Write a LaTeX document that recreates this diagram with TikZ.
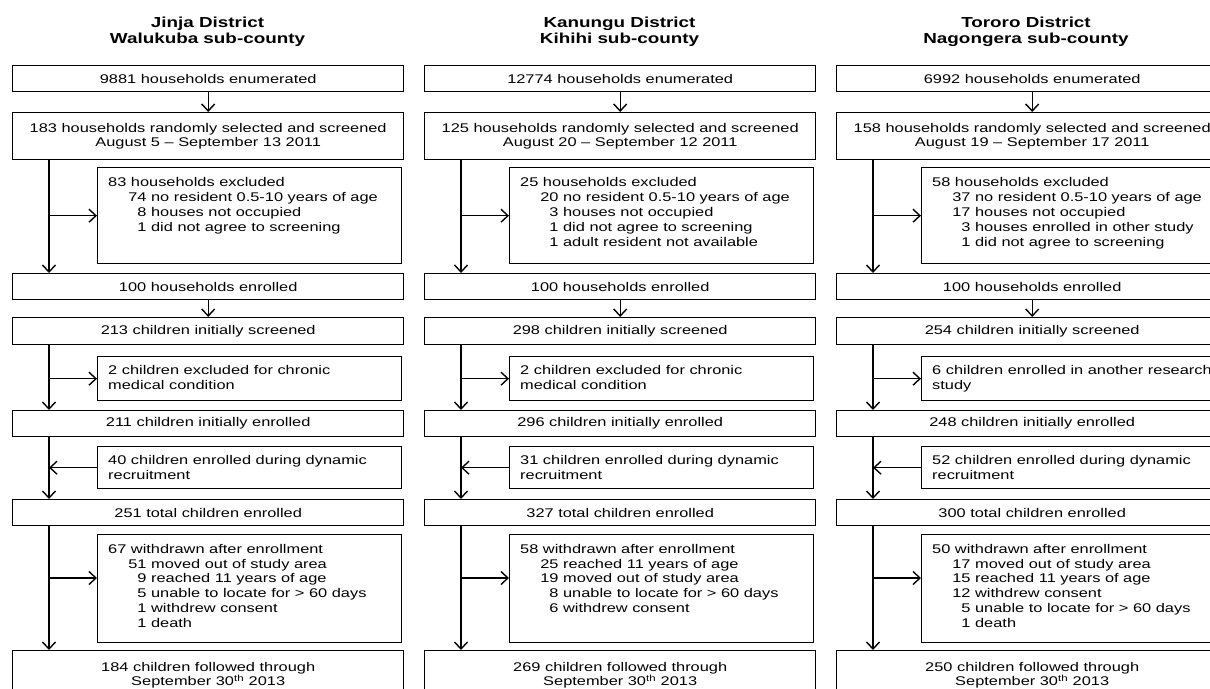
\documentclass[tikz,border=0pt]{standalone}
\usepackage{fontspec}
\setmainfont{Liberation Sans}[FakeStretch=1.3]
\usetikzlibrary{arrows.meta}
\newcommand\ind{\hspace*{1.6em}}
\newcommand\sd{\phantom{0}}
\begin{document}
\begin{tikzpicture}[x=1pt,y=-1pt,
 every node/.style={font=\fontsize{12.6}{14.8}\selectfont},
 box/.style={draw, line width=1.4pt, inner sep=0pt, anchor=north west, align=center},
 txt/.style={inner sep=0pt, anchor=north west, align=left},
 ttl/.style={font=\fontsize{14.5}{16}\selectfont\bfseries, align=center, inner sep=0pt},
 arr/.style={line width=1.4pt, -{Straight Barb[length=7pt,width=13pt,line width=1.4pt]}}]
\useasboundingbox (0,0) rectangle (1210,688);
\clip (0,0) rectangle (1210,688);

% ---------------- Column 1 ----------------
\begin{scope}[xshift=12pt]
\coordinate (aT) at (37,0);
\coordinate (aY) at (0,578);
\node[ttl] (at) at (195.5,32) {Jinja District\\Walukuba sub-county};
\node[box, minimum width=391pt, minimum height=26pt] (a1) at (0,65) {9881 households enumerated};
\node[box, minimum width=391pt, minimum height=47pt] (a2) at (0,112) {183 households randomly selected and screened\\August 5 -- September 13 2011};
\node[box, minimum width=304pt, minimum height=96pt] (ax) at (85,167) {};
\node[txt] (axt) at (96,177.5) {83 households excluded\\\ind 74 no resident 0.5-10 years of age\\\ind\sd 8 houses not occupied\\\ind\sd 1 did not agree to screening};
\node[box, minimum width=391pt, minimum height=26pt] (a3) at (0,273) {100 households enrolled};
\node[box, minimum width=391pt, minimum height=27pt] (a4) at (0,317) {213 children initially screened};
\node[box, minimum width=304pt, minimum height=44pt] (ae) at (85,356) {};
\node[txt] (aet) at (96,365.5) {2 children excluded for chronic\\medical condition};
\node[box, minimum width=391pt, minimum height=26pt] (a5) at (0,410) {211 children initially enrolled};
\node[box, minimum width=304pt, minimum height=42pt] (ad) at (85,446) {};
\node[txt] (adt) at (96,455.5) {40 children enrolled during dynamic\\recruitment};
\node[box, minimum width=391pt, minimum height=26pt] (a6) at (0,499) {251 total children enrolled};
\node[box, minimum width=304pt, minimum height=108pt] (aw) at (85,534) {};
\node[txt] (awt) at (96,544) {67 withdrawn after enrollment\\\ind 51 moved out of study area\\\ind\sd 9 reached 11 years of age\\\ind\sd 5 unable to locate for > 60 days\\\ind\sd 1 withdrew consent\\\ind\sd 1 death};
\node[box, minimum width=391pt, minimum height=49pt] (a7) at (0,650) {184 children followed through\\September 30\textsuperscript{th} 2013};
\draw[arr] (a1.south) -- (a2.north);
\draw[arr] (a2.south -| aT) -- (a3.north -| aT);
\draw[arr] (aT |- ax.west) -- (ax.west);
\draw[arr] (a3.south) -- (a4.north);
\draw[arr] (a4.south -| aT) -- (a5.north -| aT);
\draw[arr] (aT |- ae.west) -- (ae.west);
\draw[arr] (a5.south -| aT) -- (a6.north -| aT);
\draw[arr] (ad.west) -- (aT |- ad.west);
\draw[arr] (a6.south -| aT) -- (a7.north -| aT);
\draw[arr] (aT |- aY) -- (aw.west |- aY);
\end{scope}

% ---------------- Column 2 ----------------
\begin{scope}[xshift=424pt]
\coordinate (bT) at (37,0);
\coordinate (bY) at (0,578);
\node[ttl] (bt) at (195.5,32) {Kanungu District\\Kihihi sub-county};
\node[box, minimum width=391pt, minimum height=26pt] (b1) at (0,65) {12774 households enumerated};
\node[box, minimum width=391pt, minimum height=47pt] (b2) at (0,112) {125 households randomly selected and screened\\August 20 -- September 12 2011};
\node[box, minimum width=304pt, minimum height=96pt] (bx) at (85,167) {};
\node[txt] (bxt) at (96,177.5) {25 households excluded\\\ind 20 no resident 0.5-10 years of age\\\ind\sd 3 houses not occupied\\\ind\sd 1 did not agree to screening\\\ind\sd 1 adult resident not available};
\node[box, minimum width=391pt, minimum height=26pt] (b3) at (0,273) {100 households enrolled};
\node[box, minimum width=391pt, minimum height=27pt] (b4) at (0,317) {298 children initially screened};
\node[box, minimum width=304pt, minimum height=44pt] (be) at (85,356) {};
\node[txt] (bet) at (96,365.5) {2 children excluded for chronic\\medical condition};
\node[box, minimum width=391pt, minimum height=26pt] (b5) at (0,410) {296 children initially enrolled};
\node[box, minimum width=304pt, minimum height=42pt] (bd) at (85,446) {};
\node[txt] (bdt) at (96,455.5) {31 children enrolled during dynamic\\recruitment};
\node[box, minimum width=391pt, minimum height=26pt] (b6) at (0,499) {327 total children enrolled};
\node[box, minimum width=304pt, minimum height=108pt] (bw) at (85,534) {};
\node[txt] (bwt) at (96,544) {58 withdrawn after enrollment\\\ind 25 reached 11 years of age\\\ind 19 moved out of study area\\\ind\sd 8 unable to locate for > 60 days\\\ind\sd 6 withdrew consent};
\node[box, minimum width=391pt, minimum height=49pt] (b7) at (0,650) {269 children followed through\\September 30\textsuperscript{th} 2013};
\draw[arr] (b1.south) -- (b2.north);
\draw[arr] (b2.south -| bT) -- (b3.north -| bT);
\draw[arr] (bT |- bx.west) -- (bx.west);
\draw[arr] (b3.south) -- (b4.north);
\draw[arr] (b4.south -| bT) -- (b5.north -| bT);
\draw[arr] (bT |- be.west) -- (be.west);
\draw[arr] (b5.south -| bT) -- (b6.north -| bT);
\draw[arr] (bd.west) -- (bT |- bd.west);
\draw[arr] (b6.south -| bT) -- (b7.north -| bT);
\draw[arr] (bT |- bY) -- (bw.west |- bY);
\end{scope}

% ---------------- Column 3 ----------------
\begin{scope}[xshift=836pt]
\coordinate (cT) at (37,0);
\coordinate (cY) at (0,578);
\node[ttl] (ct) at (190,32) {Tororo District\\Nagongera sub-county};
\node[box, minimum width=391pt, minimum height=26pt] (c1) at (0,65) {6992 households enumerated};
\node[box, minimum width=391pt, minimum height=47pt] (c2) at (0,112) {158 households randomly selected and screened\\August 19 -- September 17 2011};
\node[box, minimum width=304pt, minimum height=96pt] (cx) at (85,167) {};
\node[txt] (cxt) at (96,177.5) {58 households excluded\\\ind 37 no resident 0.5-10 years of age\\\ind 17 houses not occupied\\\ind\sd 3 houses enrolled in other study\\\ind\sd 1 did not agree to screening};
\node[box, minimum width=391pt, minimum height=26pt] (c3) at (0,273) {100 households enrolled};
\node[box, minimum width=391pt, minimum height=27pt] (c4) at (0,317) {254 children initially screened};
\node[box, minimum width=304pt, minimum height=44pt] (ce) at (85,356) {};
\node[txt] (cet) at (96,365.5) {6 children enrolled in another research\\study};
\node[box, minimum width=391pt, minimum height=26pt] (c5) at (0,410) {248 children initially enrolled};
\node[box, minimum width=304pt, minimum height=42pt] (cd) at (85,446) {};
\node[txt] (cdt) at (96,455.5) {52 children enrolled during dynamic\\recruitment};
\node[box, minimum width=391pt, minimum height=26pt] (c6) at (0,499) {300 total children enrolled};
\node[box, minimum width=304pt, minimum height=108pt] (cw) at (85,534) {};
\node[txt] (cwt) at (96,544) {50 withdrawn after enrollment\\\ind 17 moved out of study area\\\ind 15 reached 11 years of age\\\ind 12 withdrew consent\\\ind\sd 5 unable to locate for > 60 days\\\ind\sd 1 death};
\node[box, minimum width=391pt, minimum height=49pt] (c7) at (0,650) {250 children followed through\\September 30\textsuperscript{th} 2013};
\draw[arr] (c1.south) -- (c2.north);
\draw[arr] (c2.south -| cT) -- (c3.north -| cT);
\draw[arr] (cT |- cx.west) -- (cx.west);
\draw[arr] (c3.south) -- (c4.north);
\draw[arr] (c4.south -| cT) -- (c5.north -| cT);
\draw[arr] (cT |- ce.west) -- (ce.west);
\draw[arr] (c5.south -| cT) -- (c6.north -| cT);
\draw[arr] (cd.west) -- (cT |- cd.west);
\draw[arr] (c6.south -| cT) -- (c7.north -| cT);
\draw[arr] (cT |- cY) -- (cw.west |- cY);
\end{scope}
\end{tikzpicture}
\end{document}
